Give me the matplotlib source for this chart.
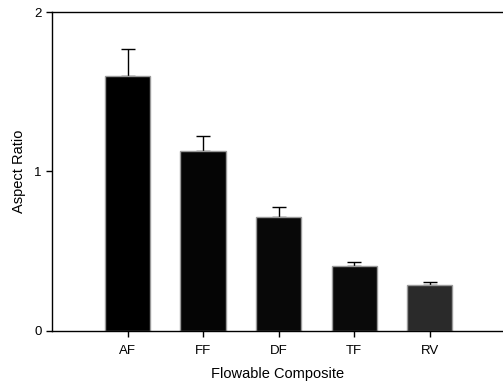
import matplotlib
matplotlib.use("Agg")
import matplotlib.pyplot as plt

categories = ["AF", "FF", "DF", "TF", "RV"]
values = [1.60, 1.13, 0.717, 0.41, 0.286]
errors = [0.17, 0.09, 0.063, 0.025, 0.02]
colors = ["#000000", "#050505", "#080808", "#0a0a0a", "#2a2a2a"]

plt.rcParams['font.family'] = ['Liberation Sans', 'DejaVu Sans']
fig = plt.figure(figsize=(5.03, 3.85), dpi=100)
ax = fig.add_axes([0.1034, 0.1403, 0.8966, 0.8285])
x = list(range(len(categories)))
ax.bar(x, values, width=0.6, color=colors, edgecolor="#9a9a9a", linewidth=1.0, zorder=2)
ax.errorbar(x, values, yerr=[[0]*len(errors), errors], fmt='none', ecolor='black',
            elinewidth=1.0, capsize=5, capthick=1.0, zorder=1)
ax.set_xlim(-1, 4.97)
ax.set_ylim(0, 2)
ax.set_yticks([0, 1, 2])
ax.set_xticks(x)
ax.set_xticklabels(categories)
ax.spines['right'].set_visible(False)
for s in ['left', 'bottom', 'top']:
    ax.spines[s].set_linewidth(1.0)
ax.tick_params(axis='both', direction='out', length=4, width=1.0, labelsize=9.5)
ax.tick_params(axis='x', pad=6)
ax.set_xlabel("Flowable Composite", fontsize=10.5, labelpad=7)
ax.set_ylabel("Aspect Ratio", fontsize=10.5, labelpad=6)
fig.savefig("out.png", dpi=100)
